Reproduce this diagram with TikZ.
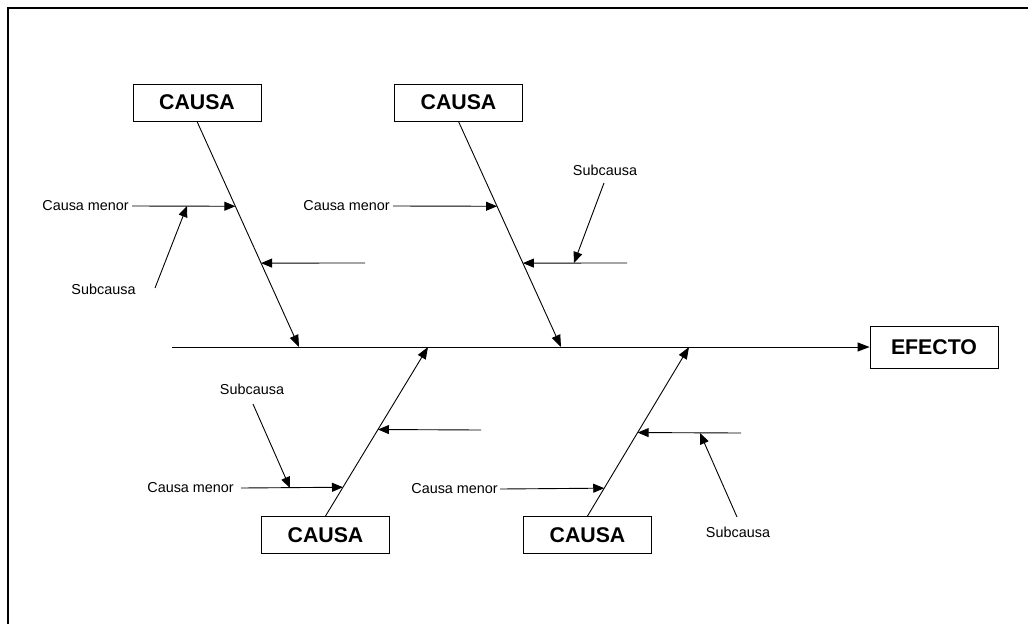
\documentclass[tikz,border=0pt]{standalone}
\usepackage{fontspec}
\setmainfont{Liberation Sans}
\usetikzlibrary{arrows.meta,calc}

\tikzset{
  causebox/.style={draw, line width=0.9pt, inner sep=0pt, minimum width=128pt,
    minimum height=37pt, font=\fontsize{21.3}{24}\selectfont\bfseries},
  effectbox/.style={causebox, minimum height=42pt},
  minorlabel/.style={inner sep=0pt, font=\fontsize{14.4}{16}\selectfont},
  bone/.style={line width=0.9pt, -{Triangle[length=12pt,width=9pt]}},
  twig/.style={line width=0.9pt, -{Triangle[length=11pt,width=9pt]}},
  frameline/.style={line width=1.6pt}
}

\begin{document}
\begin{tikzpicture}[x=1pt, y=-1pt]
\fill[white] (0,0) rectangle (1029,625);
\useasboundingbox (0,0) rectangle (1029,625);

% page frame (top and left edges only)
\draw[frameline] (1028,8) -- (8,8) -- (8,624);

% effect box and main spine
\node[effectbox] (efecto) at (934,347) {EFECTO};
\coordinate (spine) at (172,347);
\draw[bone] (spine) -- (efecto.west);

% main cause boxes
\node[causebox] (cA) at (197,102.5) {CAUSA};
\node[causebox] (cB) at (458.5,102.5) {CAUSA};
\node[causebox] (cC) at (325.5,535) {CAUSA};
\node[causebox] (cD) at (587.5,535) {CAUSA};

% points where the bones meet the spine
\coordinate (tA) at (299,347);
\coordinate (tB) at (561,347);
\coordinate (tC) at (428,347);
\coordinate (tD) at (689,347);

\draw[bone] (cA.south) -- (tA);
\draw[bone] (cB.south) -- (tB);
\draw[bone] (cC.north) -- (tC);
\draw[bone] (cD.north) -- (tD);

% points on the bones hit by the minor arrows
\coordinate (aA1) at ($(cA.south)!0.376!(tA)$);
\coordinate (aA2) at ($(cA.south)!0.628!(tA)$);
\coordinate (aB1) at ($(cB.south)!0.376!(tB)$);
\coordinate (aB2) at ($(cB.south)!0.628!(tB)$);
\coordinate (aC1) at ($(cC.north)!0.1706!(tC)$);
\coordinate (aC2) at ($(cC.north)!0.512!(tC)$);
\coordinate (aD1) at ($(cD.north)!0.165!(tD)$);
\coordinate (aD2) at ($(cD.north)!0.494!(tD)$);

% ---- upper left bone ----
\node[minorlabel, anchor=east] (mA) at (129,206) {Causa menor};
\draw[twig] ($(mA.east)+(3,0)$) -- (aA1);
\node[minorlabel] (sA) at (103.5,289) {Subcausa};
\coordinate (sA0) at (155,288);
\coordinate (sA1) at (187,206);
\draw[twig] (sA0) -- (sA1);
\coordinate (hA) at (365,263);
\draw[twig] (hA) -- (aA2);

% ---- upper middle bone ----
\node[minorlabel, anchor=east] (mB) at (390,206) {Causa menor};
\draw[twig] ($(mB.east)+(3,0)$) -- (aB1);
\coordinate (hB) at (627,263);
\draw[twig] (hB) -- (aB2);
\node[minorlabel] (sB) at (605,170) {Subcausa};
\coordinate (sB0) at (604,183);
\coordinate (sB1) at (574,263);
\draw[twig] (sB0) -- (sB1);

% ---- lower left bone ----
\node[minorlabel, anchor=east] (mC) at (234,488) {Causa menor};
\draw[twig] ($(mC.east)+(7,0)$) -- (aC1);
\coordinate (hC) at (481,430);
\draw[twig] (hC) -- (aC2);
\node[minorlabel] (sC) at (252,389) {Subcausa};
\coordinate (sC0) at (253,404);
\coordinate (sC1) at (290,488);
\draw[twig] (sC0) -- (sC1);

% ---- lower right bone ----
\node[minorlabel, anchor=east] (mD) at (498,489) {Causa menor};
\draw[twig] ($(mD.east)+(2,0)$) -- (aD1);
\coordinate (hD) at (741,433);
\draw[twig] (hD) -- (aD2);
\node[minorlabel] (sD) at (738,532) {Subcausa};
\coordinate (sD0) at (737,517);
\coordinate (sD1) at (700,433);
\draw[twig] (sD0) -- (sD1);
\end{tikzpicture}
\end{document}
